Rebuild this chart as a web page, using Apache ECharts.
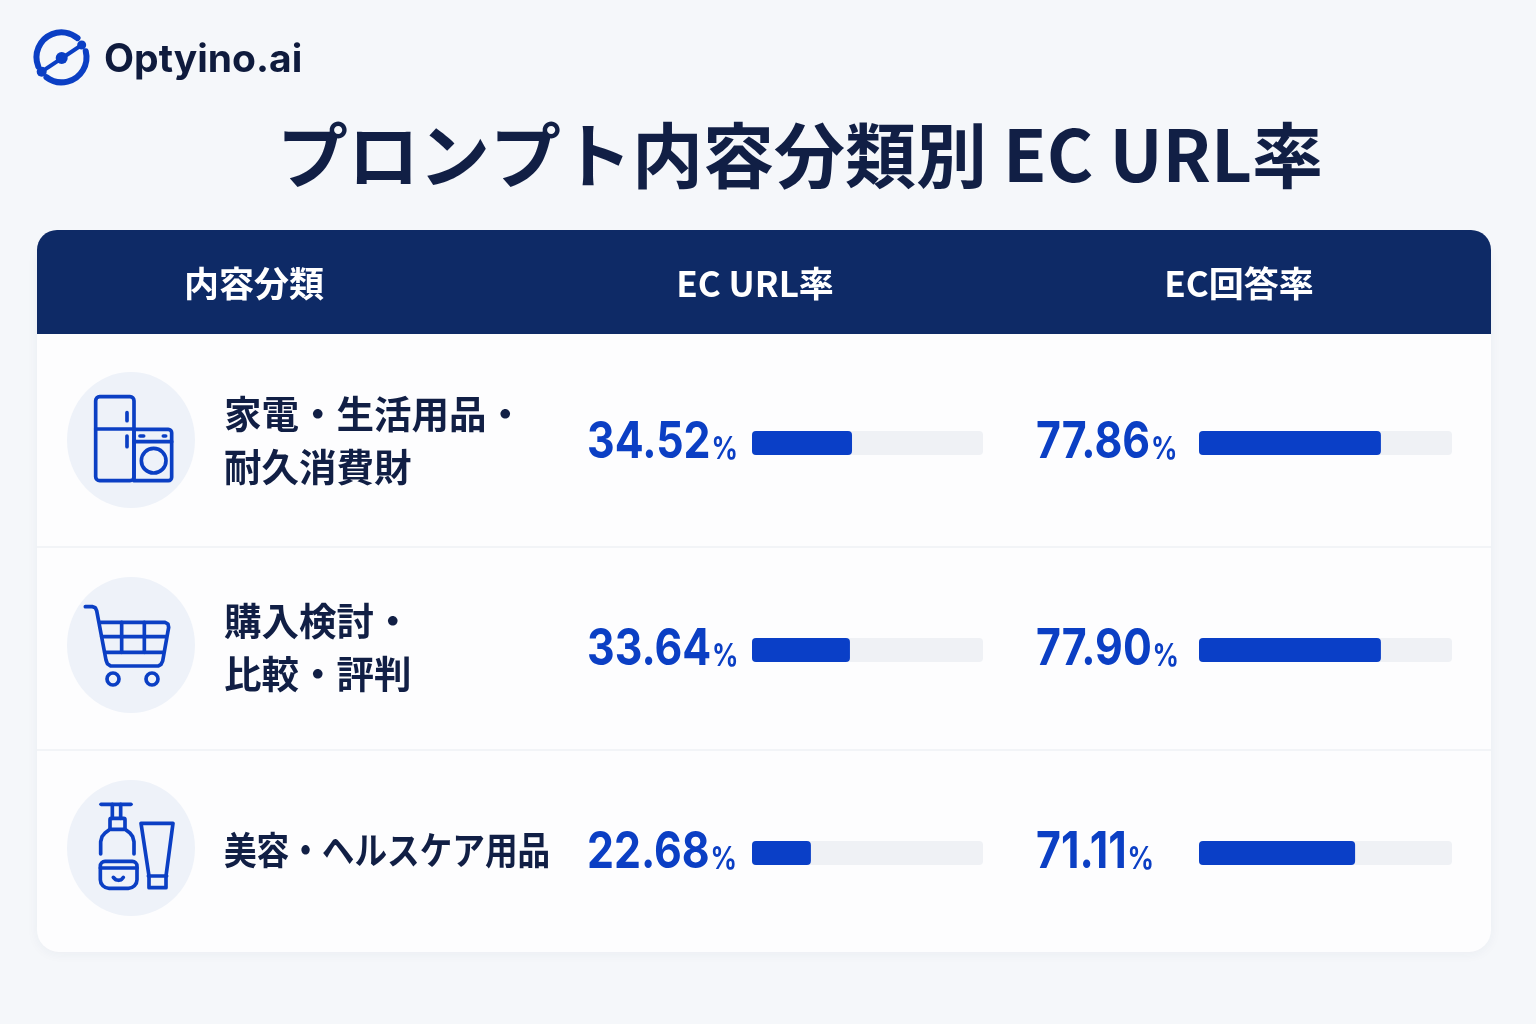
<!DOCTYPE html>
<html lang="ja">
<head>
<meta charset="utf-8">
<title>プロンプト内容分類別 EC URL率</title>
<style>html,body{margin:0;padding:0;background:#f5f7fa}#c{width:1536px;height:1024px}</style>
<script src="https://cdn.jsdelivr.net/npm/echarts@6/dist/echarts.min.js"></script>
</head>
<body>
<div id="c"></div>
<script>
const brand = 'Optyino.ai';
const title = 'プロンプト内容分類別 EC URL率';
const headers = ['内容分類', 'EC URL率', 'EC回答率'];
const categories = ['家電・生活用品・\n耐久消費財', '購入検討・\n比較・評判', '美容・ヘルスケア用品'];
const urlRate = ['34.52', '33.64', '22.68'];
const answerRate = ['77.86', '77.90', '71.11'];
// The bars in the picture are not drawn to the printed values' scale: fill share of each track, as read.
const urlBarFill = [43.3, 42.4, 25.5];
const answerBarFill = [71.9, 71.9, 61.7];

const NAVY = '#0e2a66', INK = '#111f45', BLUE = '#0b3fc4', FONT = '"Noto Sans CJK JP","Noto Sans",sans-serif';
const rowTextY = [440, 647.5, 850], rowBarY = [443, 650, 853], rowNumY = [443, 650, 853];
const circleY = [440, 645, 848];
const cols = [{left: 752, width: 231, numX: 587, vals: urlRate, fill: urlBarFill},
              {left: 1199, width: 253, numX: 1036, vals: answerRate, fill: answerBarFill}];

const S = {stroke: BLUE, fill: 'none', lineWidth: 11, lineCap: 'round', lineJoin: 'round'};
const ICON_Z = 3;
const rect = (x, y, w, h, r) => ({type: 'rect', z: ICON_Z, shape: {x, y, width: w, height: h, r}, style: S});
const line = (a, b, c, d) => ({type: 'line', z: ICON_Z, shape: {x1: a, y1: b, x2: c, y2: d}, style: S});
const poly = pts => ({type: 'polyline', z: ICON_Z, shape: {points: pts}, style: S});
const circ = (cx, cy, r) => ({type: 'circle', z: ICON_Z, shape: {cx, cy, r}, style: S});
const icon = (ox, oy, children) => ({type: 'group', x: ox, y: oy, scaleX: 1 / 3, scaleY: 1 / 3, children});

const icons = [
  icon(50, 360, [rect(137, 110, 115, 252, 12), line(137, 207, 252, 207), line(231, 158, 231, 182), line(231, 228, 231, 260),
    rect(252, 208, 113, 154, [0, 10, 10, 0]), line(252, 245, 365, 245), line(270, 228, 281, 228), line(340, 228, 347, 228), circ(311, 302, 37)]),
  icon(50, 565, [poly([[106, 125], [128, 125], [136, 128], [140, 137], [168, 285], [172, 296], [182, 303], [325, 303], [333, 298], [338, 288], [356, 187], [354, 177], [345, 172], [147, 172]]),
    line(155, 215, 347, 215), line(165, 262, 338, 262), line(215, 172, 215, 262), line(283, 172, 283, 262), circ(189, 342, 18), circ(306, 342, 18)]),
  icon(50, 770, [line(153, 103, 243, 103), line(187, 103, 187, 145), line(212, 103, 212, 145), rect(180, 145, 45, 33, 4),
    poly([[152, 252], [152, 215], [156, 200], [166, 188], [180, 178]]), poly([[225, 178], [239, 188], [248, 200], [252, 215], [252, 252]]),
    rect(151, 274, 110, 81, [14, 14, 26, 26]), line(151, 294, 261, 294), poly([[190, 322], [197, 329], [206, 331], [214, 329], [220, 322]]),
    poly([[273, 160], [369, 160], [348, 318], [348, 353], [297, 353], [297, 318], [273, 160]]), line(295, 318, 350, 318)])
];

const logoStroke = {stroke: BLUE, fill: 'none', lineWidth: 6, lineCap: 'round'};
const deg = d => d * Math.PI / 180;
const logo = [
  {type: 'arc', shape: {cx: 61.5, cy: 57.3, r: 25, startAngle: deg(-14), endAngle: deg(127), clockwise: true}, style: logoStroke},
  {type: 'arc', shape: {cx: 61.5, cy: 57.3, r: 25, startAngle: deg(158), endAngle: deg(310), clockwise: true}, style: logoStroke},
  {type: 'line', shape: {x1: 41.7, y1: 71.7, x2: 81.7, y2: 45}, style: {stroke: BLUE, lineWidth: 4}},
  {type: 'circle', shape: {cx: 41.7, cy: 71.7, r: 5}, style: {fill: BLUE}},
  {type: 'circle', shape: {cx: 81.7, cy: 45, r: 4.5}, style: {fill: BLUE}},
  {type: 'circle', shape: {cx: 61.7, cy: 58, r: 6}, style: {fill: BLUE}}
];

const graphics = [
  // card body and header
  {type: 'rect', z: 0, shape: {x: 37, y: 240, width: 1454, height: 712, r: 22}, style: {fill: '#fdfdfe', shadowBlur: 12, shadowColor: 'rgba(30,50,100,0.05)', shadowOffsetY: 2}},
  {type: 'rect', z: 1, shape: {x: 37, y: 230, width: 1454, height: 104, r: [20, 20, 0, 0]}, style: {fill: NAVY}},
  {type: 'rect', z: 1, shape: {x: 37, y: 546, width: 1454, height: 2}, style: {fill: '#f2f4f7'}},
  {type: 'rect', z: 1, shape: {x: 37, y: 749, width: 1454, height: 2}, style: {fill: '#f2f4f7'}},
  ...logo,
  {type: 'text', x: 104, y: 60, style: {text: brand, font: '700 39px Inter,"Noto Sans",sans-serif', fill: '#0f1b3d', textVerticalAlign: 'middle'}},
  {type: 'text', x: 800, y: 155, style: {text: title, font: '700 71px ' + FONT, fill: INK, textAlign: 'center', textVerticalAlign: 'middle'}},
  ...headers.map((h, i) => ({type: 'text', z: 3, x: [254, 755, 1239][i], y: 284, style: {text: h, font: '700 35px ' + FONT, fill: '#ffffff', textAlign: 'center', textVerticalAlign: 'middle'}})),
  ...circleY.map(y => ({type: 'circle', z: 2, x: 131, y, scaleX: 64 / 68, shape: {cx: 0, cy: 0, r: 68}, style: {fill: '#eef2f9'}})),
  ...icons,
  ...categories.map((t, i) => ({type: 'text', z: 3, x: 224, y: rowTextY[i], scaleX: i === 2 ? 0.87 : 1,
    style: {text: t, font: '700 37.5px ' + FONT, lineHeight: 53, fill: INK, textVerticalAlign: 'middle'}})),
  ...cols.flatMap(c => c.vals.map((v, i) => ({type: 'text', z: 3, x: c.numX, y: rowNumY[i], scaleX: 0.84,
    style: {text: '{v|' + v + '}{p|%}', fill: BLUE, textVerticalAlign: 'middle',
      rich: {v: {font: '700 51px Inter,sans-serif', fill: BLUE, verticalAlign: 'bottom'},
             p: {font: '700 31px Inter,sans-serif', fill: BLUE, verticalAlign: 'bottom', padding: [0, 0, 3, 1]}}}})))
];

const grids = [], xAxes = [], yAxes = [], series = [];
cols.forEach(c => c.fill.forEach((f, i) => {
  const idx = grids.length;
  grids.push({left: c.left, width: c.width, top: rowBarY[i] - 12, height: 24});
  xAxes.push({type: 'value', gridIndex: idx, min: 0, max: 100, show: false});
  yAxes.push({type: 'category', gridIndex: idx, data: [categories[i]], show: false});
  series.push({type: 'bar', xAxisIndex: idx, yAxisIndex: idx, data: [f], barWidth: 24, silent: true, z: 5,
    itemStyle: {color: '#0a3fc7', borderRadius: 4},
    showBackground: true, backgroundStyle: {color: '#eff1f5', borderRadius: 4}});
}));

const chart = echarts.init(document.getElementById('c'), null, {renderer: 'canvas'});
chart.setOption({
  animation: false,
  backgroundColor: '#f5f7fa',
  tooltip: {show: false},
  grid: grids, xAxis: xAxes, yAxis: yAxes, series,
  graphic: {elements: graphics}
});
</script>
</body>
</html>
